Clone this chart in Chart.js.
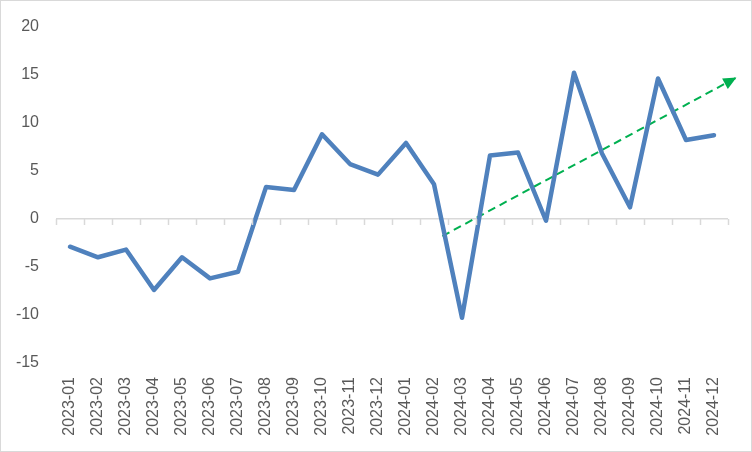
<!DOCTYPE html>
<html>
<head>
<meta charset="utf-8">
<script src="https://cdn.jsdelivr.net/npm/chart.js@4/dist/chart.umd.min.js"></script>
<style>
  html, body { margin: 0; padding: 0; background: #fff; }
  #wrap { width: 752px; height: 452px; }
</style>
</head>
<body>
<div id="wrap"><canvas id="chart" width="752" height="452"></canvas></div>
<script>
// --- datos ---
const months = ['2023-01','2023-02','2023-03','2023-04','2023-05','2023-06','2023-07','2023-08',
  '2023-09','2023-10','2023-11','2023-12','2024-01','2024-02','2024-03','2024-04','2024-05',
  '2024-06','2024-07','2024-08','2024-09','2024-10','2024-11','2024-12'];
const values = [-2.9, -4.0, -3.2, -7.4, -4.0, -6.2, -5.5, 3.3, 3.0, 8.8, 5.7, 4.6,
  7.9, 3.6, -10.3, 6.6, 6.9, -0.2, 15.2, 6.8, 1.2, 14.6, 8.2, 8.7];
// flecha de tendencia (posición en índice de categoría, valor)
const trendX = [13.3, 23.8];
const trendY = [-1.8, 14.7];
const yTicks = [-15, -10, -5, 0, 5, 10, 15, 20];

const FONT = 'Liberation Sans, Arial, sans-serif';

// fondo y borde exterior
const frame = {
  id: 'frame',
  beforeDraw(chart) {
    const c = chart.ctx;
    c.save();
    c.fillStyle = '#fff';
    c.fillRect(0, 0, chart.width, chart.height);
    c.strokeStyle = '#d9d9d9';
    c.lineWidth = 1;
    c.strokeRect(0.5, 0.5, chart.width - 1, chart.height - 1);
    c.restore();
  }
};

// marcas del eje de categorías sobre la línea del cero
const zeroTicks = {
  id: 'zeroTicks',
  afterDraw(chart) {
    const x = chart.scales.x, y = chart.scales.y;
    const y0 = Math.round(y.getPixelForValue(0));
    const step = (x.right - x.left) / months.length;
    const c = chart.ctx;
    c.save();
    c.strokeStyle = '#d9d9d9';
    c.lineWidth = 1.5;
    c.beginPath();
    for (let i = 0; i <= months.length; i++) {
      const px = Math.round(x.left + step * i) + 0.5;
      c.moveTo(px, y0);
      c.lineTo(px, y0 + 6);
    }
    c.stroke();
    c.restore();
  }
};

// punta de flecha
const arrowHead = {
  id: 'arrowHead',
  afterDatasetsDraw(chart) {
    const pts = chart.getDatasetMeta(1).data;
    if (pts.length < 2) return;
    const a = pts[pts.length - 2], b = pts[pts.length - 1];
    const ang = Math.atan2(b.y - a.y, b.x - a.x);
    const len = 13, w = 6;
    const c = chart.ctx;
    c.save();
    c.fillStyle = '#00b050';
    c.beginPath();
    c.moveTo(b.x, b.y);
    c.lineTo(b.x - len * Math.cos(ang) + w * Math.sin(ang), b.y - len * Math.sin(ang) - w * Math.cos(ang));
    c.lineTo(b.x - len * Math.cos(ang) - w * Math.sin(ang), b.y - len * Math.sin(ang) + w * Math.cos(ang));
    c.closePath();
    c.fill();
    c.restore();
  }
};

new Chart(document.getElementById('chart'), {
  type: 'line',
  data: {
    labels: months,
    datasets: [{
      data: values,
      borderColor: '#4f81bd',
      borderWidth: 4.5,
      borderJoinStyle: 'round',
      borderCapStyle: 'round',
      pointRadius: 0,
      tension: 0,
      xAxisID: 'x',
      yAxisID: 'y'
    }, {
      data: trendX.map((v, i) => ({ x: v, y: trendY[i] })),
      borderColor: '#00b050',
      borderWidth: 2,
      borderDash: [8, 5],
      pointRadius: 0,
      tension: 0,
      clip: false,
      xAxisID: 'x2',
      yAxisID: 'y'
    }]
  },
  options: {
    responsive: false,
    animation: false,
    layout: { padding: { left: 0, right: 24, top: 24, bottom: 0 } },
    plugins: { legend: { display: false }, tooltip: { enabled: false } },
    scales: {
      x: {
        type: 'category',
        offset: true,
        grid: { display: false },
        border: { display: false },
        ticks: {
          color: '#595959',
          font: { family: FONT, size: 16 },
          minRotation: 90,
          maxRotation: 90,
          autoSkip: false,
          padding: 6
        },
        afterFit(s) { s.height = 89; }
      },
      x2: {
        type: 'linear',
        display: false,
        min: -0.5,
        max: months.length - 0.5
      },
      y: {
        min: -15,
        max: 20,
        afterBuildTicks(s) { s.ticks = yTicks.map(v => ({ value: v })); },
        grid: {
          drawTicks: false,
          lineWidth: 1.5,
          color: ctx => ctx.tick && ctx.tick.value === 0 ? '#d9d9d9' : 'rgba(0,0,0,0)'
        },
        border: { display: false },
        ticks: {
          color: '#595959',
          font: { family: FONT, size: 16 },
          padding: 17
        },
        afterFit(s) { s.width = 56; }
      }
    }
  },
  plugins: [frame, zeroTicks, arrowHead]
});
</script>
</body>
</html>
